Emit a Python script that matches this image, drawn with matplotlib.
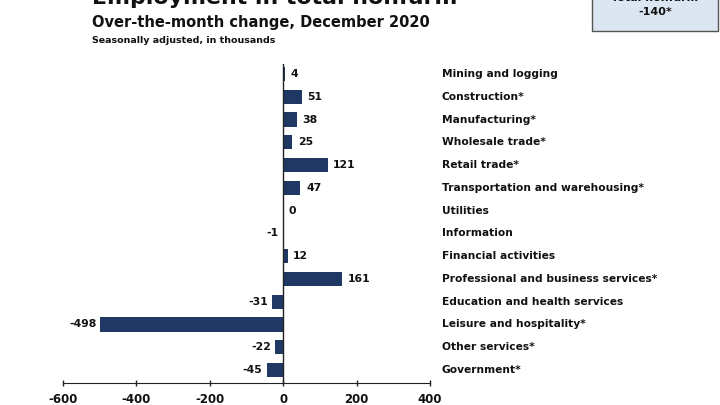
import numpy as np
import matplotlib
matplotlib.use("Agg")
import matplotlib.pyplot as plt
import matplotlib.transforms as mtransforms
from matplotlib.patches import Rectangle

# data (thousands, over-the-month change, Dec 2020)
industries = [
    "Mining and logging", "Construction*", "Manufacturing*", "Wholesale trade*",
    "Retail trade*", "Transportation and warehousing*", "Utilities", "Information",
    "Financial activities", "Professional and business services*",
    "Education and health services", "Leisure and hospitality*",
    "Other services*", "Government*",
]
changes = [4, 51, 38, 25, 121, 47, 0, -1, 12, 161, -31, -498, -22, -45]
xticks = [-600, -400, -200, 0, 200, 400]
total_label = "Total nonfarm"
total_value = "-140*"

plt.rcParams['font.family'] = ['DejaVu Sans']
navy = "#1f3864"
ink = "#111111"
W, H = 720, 405

fig = plt.figure(figsize=(7.2, 4.05), dpi=100)
fig.patch.set_facecolor("white")

# axes placed in pixel terms
left, right, top, bottom = 63, 430, 64, 383
ax = fig.add_axes([left / W, 1 - bottom / H, (right - left) / W, (bottom - top) / H])

n = len(industries)
ypos = np.arange(n)[::-1]
ax.barh(ypos, changes, height=0.62, color=navy, zorder=2)
ax.axvline(0, color="#222222", lw=1, zorder=3)

# value labels
for y, v in zip(ypos, changes):
    if v >= 0:
        ax.annotate(str(v), (v, y), xytext=(4, 0), textcoords="offset points",
                    ha="left", va="center", fontsize=7.8, fontweight="bold", color=ink)
    else:
        ax.annotate(str(v), (v, y), xytext=(-3, 0), textcoords="offset points",
                    ha="right", va="center", fontsize=7.8, fontweight="bold", color=ink)

ax.set_yticks([])
ax.set_xlim(-600, 400)
ax.set_ylim(-0.57, 13.44)
ax.set_xticks(xticks)
ax.set_xticklabels([str(t) for t in xticks], fontsize=8.5, fontweight="bold", color=ink)
ax.tick_params(axis="x", direction="inout", length=5, width=1, color="#222222", pad=5)
for s in ["top", "right", "left"]:
    ax.spines[s].set_visible(False)
ax.spines["bottom"].set_color("#222222")
ax.patch.set_alpha(0)

# category names on the right
trans = mtransforms.blended_transform_factory(fig.transFigure, ax.transData)
for y, name in zip(ypos, industries):
    ax.text(442 / W, y, name, transform=trans, ha="left", va="center",
            fontsize=7.7, fontweight="bold", color=ink)

# headings
fig.text(92 / W, 1 - 4 / H, "Employment in total nonfarm", fontsize=15.8, fontweight="bold",
         va="baseline", ha="left", color=ink)
fig.text(92 / W, 1 - 27 / H, "Over-the-month change, December 2020", fontsize=10.5,
         fontweight="bold", va="baseline", ha="left", color=ink)
fig.text(92 / W, 1 - 43 / H, "Seasonally adjusted, in thousands", fontsize=6.8,
         fontweight="bold", va="baseline", ha="left", color=ink)

# total box top right
box = Rectangle((592 / W, 1 - 31 / H), 126 / W, 40 / H, transform=fig.transFigure,
                facecolor="#dce6f2", edgecolor="#555555", lw=1)
fig.patches.append(box)
fig.text(655 / W, 1 - 1 / H, total_label, fontsize=8, fontweight="bold",
         ha="center", va="baseline", color=ink)
fig.text(655 / W, 1 - 15 / H, total_value, fontsize=8, fontweight="bold",
         ha="center", va="baseline", color=ink)

fig.savefig("out.png", dpi=100)
